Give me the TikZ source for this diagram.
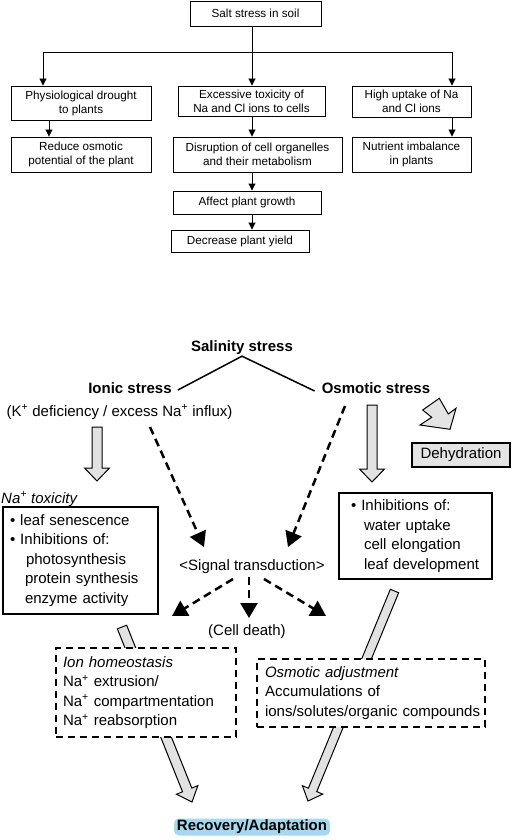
\documentclass[tikz,border=0pt]{standalone}
\usepackage{fontspec}
\setmainfont{Liberation Sans}
\usetikzlibrary{arrows.meta,calc}
\definecolor{arrowgray}{HTML}{E2E2E2}
\definecolor{dehydgray}{HTML}{E4E4E4}
\definecolor{glowblue}{HTML}{A6D9EF}
\newcommand{\blockarr}[5]{%
  \coordinate (bahead) at ($(#2)!#5!(#1)$);
  \draw[blockarrow] ($(#1)!#3!90:(#2)$) -- ($(bahead)!#3!90:(#2)$) -- ($(bahead)!#4!90:(#2)$) -- (#2)
    -- ($(bahead)!#4!-90:(#2)$) -- ($(bahead)!#3!-90:(#2)$) -- ($(#1)!#3!-90:(#2)$) -- cycle;}
\begin{document}
\begin{tikzpicture}[x=1pt,y=-1pt,
  topbox/.style={draw, line width=0.9pt, font=\fontsize{11.7}{14}\selectfont, align=center, inner sep=1pt},
  topline/.style={line width=0.9pt},
  toparrow/.style={line width=0.9pt, -{Triangle[length=7pt,width=7pt]}},
  regtext/.style={font=\fontsize{15}{19.5}\selectfont, inner sep=2pt},
  boldtext/.style={font=\fontsize{15}{19.5}\selectfont\bfseries, inner sep=2pt},
  solidbox/.style={draw, line width=2pt, fill=white, align=left, font=\fontsize{15}{19.5}\selectfont, inner ysep=0pt},
  dashbox/.style={draw, line width=2pt, dash pattern=on 7pt off 5pt, fill=white, align=left, font=\fontsize{15}{19.5}\selectfont, inner ysep=0pt},
  dasharrow/.style={line width=2.5pt, dash pattern=on 8pt off 5pt, -{Triangle[length=15pt,width=17pt]}},
  blockarrow/.style={draw=black, line width=1pt, fill=arrowgray, line join=miter}]
\useasboundingbox[fill=white] (0,0) rectangle (512,840);

% ---------------- top flowchart ----------------
\node[topbox, minimum width=131, minimum height=25] (salt) at (255.5,13.5) {Salt stress in soil};
\node[topbox, minimum width=140, minimum height=34] (physio) at (81,103) {Physiological drought\\to plants};
\node[topbox, minimum width=147, minimum height=30] (excess) at (251.5,101) {Excessive toxicity of\\Na and Cl ions to cells};
\node[topbox, minimum width=119, minimum height=31] (high) at (411.5,101.5) {High uptake of Na\\and Cl ions};
\node[topbox, minimum width=140, minimum height=35] (reduce) at (81,154.5) {Reduce osmotic\\potential of the plant};
\node[topbox, minimum width=169, minimum height=35] (disrupt) at (257.5,154.5) {Disruption of cell organelles\\and their metabolism};
\node[topbox, minimum width=119, minimum height=35] (nutrient) at (411.5,154.5) {Nutrient imbalance\\in plants};
\node[topbox, minimum width=148, minimum height=23] (affect) at (247,202.5) {Affect plant growth};
\node[topbox, minimum width=138, minimum height=22] (decrease) at (240,241) {Decrease plant yield};

\coordinate (spine) at (252,52);
\coordinate (lft) at (43,52);
\coordinate (rgt) at (452,52);
\coordinate (px) at (49,0);
\draw[topline] (salt.south -| spine) -- (spine);
\draw[topline] (lft) -- (rgt);
\draw[toparrow] (lft) -- (lft |- physio.north);
\draw[toparrow] (spine) -- (spine |- excess.north);
\draw[toparrow] (rgt) -- (rgt |- high.north);
\draw[toparrow] (physio.south -| px) -- (reduce.north -| px);
\draw[toparrow] (excess.south -| spine) -- (disrupt.north -| spine);
\draw[toparrow] (high.south -| rgt) -- (nutrient.north -| rgt);
\draw[toparrow] (disrupt.south -| spine) -- (affect.north -| spine);
\draw[toparrow] (affect.south -| spine) -- (decrease.north -| spine);

% ---------------- bottom scheme ----------------
\node[boldtext] (sal) at (242,348) {Salinity stress};
\node[boldtext] (ionic) at (130,388) {Ionic stress};
\node[boldtext] (osm) at (376,388) {Osmotic stress};
\draw[line width=1.5pt] ([xshift=4pt,yshift=-2pt]ionic.east) -- ([yshift=1pt]sal.south) -- ([xshift=-5pt,yshift=-3pt]osm.west);
\node[regtext] (kplus) at (119.5,412) {(K\textsuperscript{+} deficiency / excess Na\textsuperscript{+} influx)};

% dehydration
\draw[blockarrow, fill=dehydgray] (422.7,410) -- (439.3,398.3) -- (448.3,414) -- (456,408.3) -- (450,429.3) -- (420,425) -- (431.7,417.3) -- cycle;
\node[draw, line width=1.5pt, fill=dehydgray, minimum width=98, minimum height=24, regtext, inner sep=0pt] (dehyd) at (461,455) {Dehydration};

% grey block arrows
\coordinate (a1s) at (97,427); \coordinate (a1t) at (97,481);
\coordinate (a2s) at (372,405); \coordinate (a2t) at (372,482);
\coordinate (a3s) at (122,627); \coordinate (a3t) at (192,802);
\coordinate (a4s) at (394.5,591); \coordinate (a4t) at (308,801);
\blockarr{a1s}{a1t}{5pt}{12.5pt}{13pt}
\blockarr{a2s}{a2t}{5pt}{12.5pt}{13pt}
\blockarr{a3s}{a3t}{5pt}{11.5pt}{13pt}
\blockarr{a4s}{a4t}{4.5pt}{11pt}{12pt}

% dashed signalling arrows
\coordinate (d1s) at (150,427); \coordinate (d1t) at (204,547);
\coordinate (d2s) at (345,406); \coordinate (d2t) at (288,547);
\coordinate (d3s) at (249,577); \coordinate (d3t) at (249,618);
\coordinate (d4s) at (233,579); \coordinate (d4t) at (172,616);
\coordinate (d5s) at (264,579); \coordinate (d5t) at (326,616);
\draw[dasharrow] (d1s) -- (d1t);
\draw[dasharrow] (d2s) -- (d2t);
\draw[dasharrow] (d3s) -- (d3t);
\draw[dasharrow] (d4s) -- (d4t);
\draw[dasharrow] (d5s) -- (d5t);

\node[regtext, font=\fontsize{15}{19.5}\selectfont\itshape, anchor=west, inner sep=0pt] (natox) at (1,499) {Na\textsuperscript{+} toxicity};
\node[solidbox, text width=141, inner xsep=7, minimum height=107] (nabox) at (80.5,560.5)
  {\textbullet\ leaf senescence\\\textbullet\ Inhibitions of:\\\hspace*{16pt}photosynthesis\\\hspace*{15pt}protein synthesis\\\hspace*{15pt}enzyme activity};
\node[solidbox, text width=129, inner xsep=12, minimum height=86] (inhbox) at (415.5,536)
  {\textbullet\ Inhibitions of:\\\hspace*{13pt}water uptake\\\hspace*{13pt}cell elongation\\\hspace*{13pt}\mbox{leaf development}};

\node[regtext] (signal) at (252,567) {<Signal transduction>};
\node[regtext] (death) at (247,632) {(Cell death)};

\node[dashbox, text width=166, inner xsep=7, minimum height=89] (ionbox) at (146,692.5)
  {\textit{Ion homeostasis}\\Na\textsuperscript{+} extrusion/\\Na\textsuperscript{+} compartmentation\\Na\textsuperscript{+} reabsorption};
\node[dashbox, text width=212, inner xsep=8, minimum height=68] (osmbox) at (371,693)
  {\textit{Osmotic adjustment}\\Accumulations of\\\mbox{ions/solutes/organic compounds}};

\node[boldtext, fill=glowblue, rounded corners=5pt, inner xsep=3pt, inner ysep=1.5pt] (recov) at (252,827) {Recovery/Adaptation};
\end{tikzpicture}
\end{document}
